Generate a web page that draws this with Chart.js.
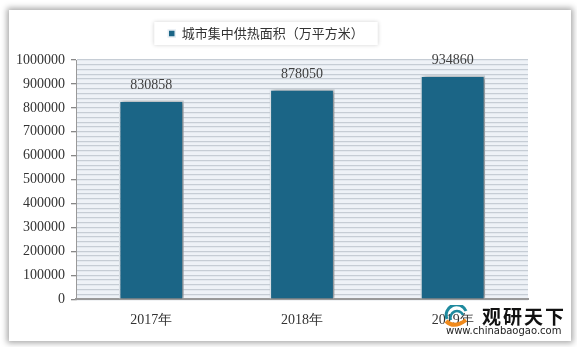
<!DOCTYPE html>
<html>
<head>
<meta charset="utf-8">
<script src="https://cdn.jsdelivr.net/npm/chart.js@4"></script>
<style>
  body { margin: 0; background: #fff; }
  #wrap { position: relative; width: 577px; height: 347px; overflow: hidden; }
  #card { position: absolute; left: 9px; top: 10px; width: 562px; height: 331px; background: #fff;
          box-shadow: 0 0 6px 2px rgba(0,0,0,0.35); }
  #c { position: absolute; left: 0; top: 0; }
  #wm { position: absolute; left: 438px; top: 300px; width: 130px; height: 40px; }
  #wm .logo { position: absolute; left: 6px; top: 5px; width: 26px; height: 22px; }
  #wm .name { position: absolute; left: 44px; top: 2px; font: bold 19px "Noto Sans CJK SC"; color: #111; letter-spacing: 2px; }
  #wm .url { position: absolute; left: 8px; top: 25px; font: 10px "DejaVu Sans"; color: #222; }
</style>
</head>
<body>
<div id="wrap">
  <div id="card"></div>
  <canvas id="c" width="577" height="347"></canvas>
  <div id="wm">
    <svg class="logo" viewBox="0 0 26 22">
      <path d="M3 14 A10 10 0 0 1 22 6" stroke="#1f8a9e" stroke-width="3" fill="none"/>
      <path d="M7 15 A6 6 0 0 1 19 10" stroke="#1f8a9e" stroke-width="2.5" fill="none"/>
      <path d="M2 16 Q10 24 22 15" stroke="#f08a1c" stroke-width="4" fill="none"/>
    </svg>
    <div class="name">观研天下</div>
    <div class="url">www.chinabaogao.com</div>
  </div>
</div>
<script>
const categorias = ['2017年', '2018年', '2019年'];
const areaAquecimento = [830858, 878050, 934860];
const nomeSerie = '城市集中供热面积（万平方米）';

// fundo listrado da área do gráfico + caixa da legenda
const fundoPlugin = {
    id: 'fundo',
    afterInit(chart) {
        // espaço extra abaixo da legenda
        const leg = chart.legend;
        const fitOrig = leg.fit;
        leg.fit = function () { fitOrig.call(this); this.height += 10; };
    },
    beforeDraw(chart) {
        const { ctx, chartArea: a } = chart;
        ctx.save();
        ctx.fillStyle = '#eef2f7';
        ctx.fillRect(a.left, a.top, a.right - a.left, a.bottom - a.top);
        const hb = chart.legend.legendHitBoxes[0];
        if (hb) {
            ctx.shadowColor = 'rgba(0,0,0,0.18)';
            ctx.shadowBlur = 4;
            ctx.fillStyle = '#fff';
            ctx.fillRect(hb.left - 14, hb.top - 5, hb.width + 28, hb.height + 10);
        }
        ctx.restore();
    }
};

const sombraPlugin = {
    id: 'sombra',
    beforeDatasetsDraw(chart) {
        const ctx = chart.ctx;
        ctx.save();
        ctx.shadowColor = 'rgba(0,0,0,0.45)';
        ctx.shadowBlur = 4;
        ctx.shadowOffsetX = 2;
        ctx.shadowOffsetY = 0;
    },
    afterDatasetsDraw(chart) {
        chart.ctx.restore();
        // rótulos de valor acima das barras
        const ctx = chart.ctx;
        ctx.save();
        ctx.font = '14px "Liberation Serif"';
        ctx.fillStyle = '#404040';
        ctx.textAlign = 'center';
        ctx.textBaseline = 'middle';
        chart.getDatasetMeta(0).data.forEach((bar, i) => {
            ctx.fillText(String(areaAquecimento[i]), bar.x, bar.y - 15);
        });
        ctx.restore();
    }
};

new Chart(document.getElementById('c'), {
    type: 'bar',
    data: {
        labels: categorias,
        datasets: [{
            label: nomeSerie,
            data: areaAquecimento,
            backgroundColor: '#1b6586',
            borderColor: '#e6edf3',
            borderWidth: 1.5,
            barPercentage: 0.43,
            categoryPercentage: 1
        }]
    },
    options: {
        responsive: false,
        animation: false,
        layout: { padding: { left: 4, right: 49, top: 17, bottom: 13 } },
        plugins: {
            legend: {
                position: 'top',
                labels: {
                    font: { family: 'Noto Sans CJK SC', size: 13 },
                    color: '#333',
                    boxWidth: 7,
                    boxHeight: 7,
                    padding: 10
                }
            },
            tooltip: { enabled: false }
        },
        scales: {
            x: {
                grid: { display: false },
                border: { color: '#999', width: 2 },
                ticks: { font: { family: 'Liberation Serif', size: 14 }, color: '#333', padding: 5 }
            },
            y: {
                min: 0,
                max: 1000000,
                afterFit(scale) { scale.width = 72; },
                border: { color: '#999', width: 1 },
                grid: {
                    color: '#c6cdd5',
                    lineWidth: 1.3,
                    tickLength: 5,
                    tickColor: c => c.tick && c.tick.value % 100000 === 0 ? '#888' : 'rgba(0,0,0,0)'
                },
                ticks: {
                    stepSize: 20000,
                    autoSkip: false,
                    padding: 6,
                    font: { family: 'Liberation Serif', size: 14 },
                    color: '#333',
                    callback: v => v % 100000 === 0 ? String(v) : ''
                }
            }
        }
    },
    plugins: [fundoPlugin, sombraPlugin]
});
</script>
</body>
</html>
